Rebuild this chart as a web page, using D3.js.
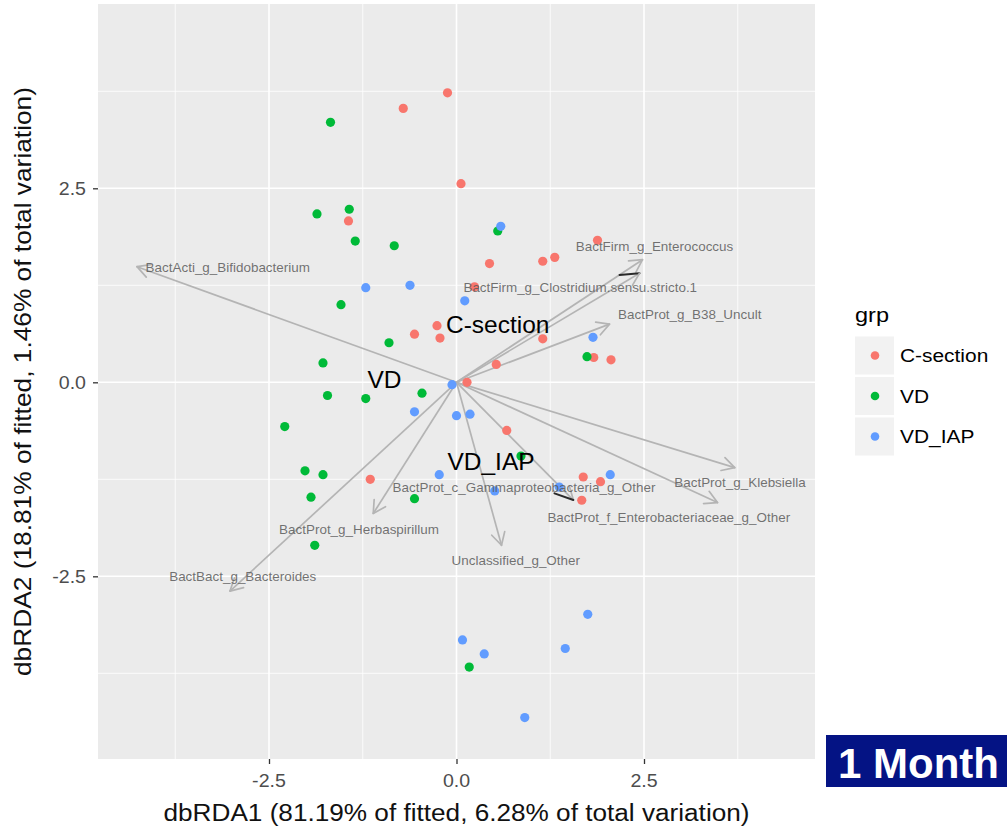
<!DOCTYPE html>
<html><head><meta charset="utf-8">
<script src="https://cdn.jsdelivr.net/npm/d3@7"></script>
<style>body{margin:0;background:#fff;} svg{display:block;font-family:"Liberation Sans",Arial,sans-serif;}</style>
</head><body>
<svg id="c" width="1007" height="826"></svg>
<script>
// ---------------- data ----------------
const groups = ["C-section", "VD", "VD_IAP"];
const groupColors = ["#F8766D", "#00BA38", "#619CFF"];

const csX = [-0.12,-0.71,0.06,-1.44,0.44,0.24,-0.26,-0.56,-0.22,0.53,0.14,1.88,1.15,1.31,1.15,1.83,2.06,-1.15,0.67,1.69,1.92,1.67];
const csY = [3.73,3.53,2.56,2.08,1.53,1.23,0.73,0.62,0.57,0.23,0.00,1.83,1.56,1.61,0.56,0.32,0.29,-1.25,-0.62,-1.22,-1.28,-1.52];

const vdX = [-1.68,-1.86,-1.43,-1.35,-0.83,-1.54,-0.90,-1.78,0.55,1.74,-0.46,-1.72,-1.21,-2.29,-2.02,-1.78,-1.94,-0.56,-1.89,0.17,0.86];
const vdY = [3.35,2.17,2.23,1.82,1.76,1.00,0.51,0.25,1.95,0.33,-0.14,-0.17,-0.21,-0.57,-1.14,-1.19,-1.48,-1.50,-2.10,-3.67,-0.95];

const iapX = [-1.21,-0.62,0.11,0.59,1.82,-0.06,-0.56,0.00,0.18,-0.23,0.51,2.05,1.37,1.75,1.45,0.08,0.37,0.91];
const iapY = [1.22,1.25,1.05,2.01,0.58,-0.03,-0.38,-0.43,-0.41,-1.19,-1.40,-1.19,-1.35,-2.99,-3.43,-3.32,-3.50,-4.32];

const arrowNames = ["BactActi_g_Bifidobacterium","BactFirm_g_Enterococcus","BactFirm_g_Clostridium.sensu.stricto.1",
  "BactProt_g_B38_Uncult","BactProt_g_Klebsiella","BactProt_f_Enterobacteriaceae_g_Other",
  "BactProt_c_Gammaproteobacteria_g_Other","Unclassified_g_Other","BactProt_g_Herbaspirillum","BactBact_g_Bacteroides"];
const arrowX = [-4.26,2.48,2.44,2.04,3.71,3.48,1.558,0.60,-1.11,-3.02];
const arrowY = [1.49,1.58,1.405,0.75,-1.10,-1.55,-1.517,-2.10,-1.69,-2.69];
const arrowLabelX = [-3.05,2.64,1.65,3.11,3.78,2.83,0.90,0.79,-1.30,-2.85];
const arrowLabelY = [1.47,1.74,1.22,0.87,-1.29,-1.74,-1.362,-2.30,-1.90,-2.50];

const centroidX = [0.55,-0.96,0.46];
const centroidY = [0.75,0.035,-1.02];

const xTicks = [-2.5, 0, 2.5];
const yTicks = [-2.5, 0, 2.5];
const xMinor = [-3.75,-1.25,1.25,3.75];
const yMinor = [-3.75,-1.25,1.25,3.75];
const xTitle = "dbRDA1 (81.19% of fitted, 6.28% of total variation)";
const yTitle = "dbRDA2 (18.81% of fitted, 1.46% of total variation)";
const legendTitle = "grp";
const badge = "1 Month";

// ---------------- drawing ----------------
const svg = d3.select("#c");
const P = {l:98, r:815, t:4, b:759};
const x = d3.scaleLinear().domain([-4.78, 4.78]).range([P.l, P.r]);
const y = d3.scaleLinear().domain([-4.854, 4.875]).range([P.b, P.t]);
const color = d3.scaleOrdinal().domain(groups).range(groupColors);
const SX = 1.12;
const fmt = v => d3.format(".1f")(v).replace("\u2212","-");

function stext(parent, px, py, str, o) {
  const g = parent.append("g").attr("transform", `translate(${px},${py}) scale(${o.sx||SX},1)`);
  return g.append("text").attr("x",0).attr("y",0).text(str)
    .attr("font-size", o.size).attr("fill", o.fill||"#000")
    .attr("text-anchor", o.anchor||"start").attr("dy", o.dy||null)
    .attr("fill-opacity", o.op==null?1:o.op).attr("font-weight", o.weight||"normal");
}

// panel
svg.append("rect").attr("x",P.l).attr("y",P.t).attr("width",P.r-P.l).attr("height",P.b-P.t).attr("fill","#EBEBEB");
const grid = svg.append("g");
grid.selectAll(".vm").data(xMinor).join("line").attr("x1",d=>x(d)).attr("x2",d=>x(d)).attr("y1",P.t).attr("y2",P.b).attr("stroke","#fff").attr("stroke-width",0.8);
grid.selectAll(".hm").data(yMinor).join("line").attr("y1",d=>y(d)).attr("y2",d=>y(d)).attr("x1",P.l).attr("x2",P.r).attr("stroke","#fff").attr("stroke-width",0.8);
grid.selectAll(".vM").data(xTicks).join("line").attr("x1",d=>x(d)).attr("x2",d=>x(d)).attr("y1",P.t).attr("y2",P.b).attr("stroke","#fff").attr("stroke-width",1.6);
grid.selectAll(".hM").data(yTicks).join("line").attr("y1",d=>y(d)).attr("y2",d=>y(d)).attr("x1",P.l).attr("x2",P.r).attr("stroke","#fff").attr("stroke-width",1.6);

// axes
const xa = svg.append("g").attr("transform",`translate(0,${P.b})`)
  .call(d3.axisBottom(x).tickValues(xTicks).tickSize(5).tickFormat(()=>""));
const ya = svg.append("g").attr("transform",`translate(${P.l},0)`)
  .call(d3.axisLeft(y).tickValues(yTicks).tickSize(5).tickFormat(()=>""));
[xa,ya].forEach(a=>{a.select(".domain").remove(); a.selectAll(".tick line").attr("stroke","#333").attr("stroke-width",1.3);});
xTicks.forEach(v=>stext(svg, x(v), 786.5, fmt(v), {size:17.5, fill:"#4D4D4D", anchor:"middle"}));
yTicks.forEach(v=>stext(svg, 86, y(v), fmt(v), {size:17.5, fill:"#4D4D4D", anchor:"end", dy:"0.36em"}));

svg.append("text").attr("x",(P.l+P.r)/2).attr("y",821).attr("text-anchor","middle").attr("font-size",23)
  .attr("fill","#111").attr("textLength",586).attr("lengthAdjust","spacingAndGlyphs").text(xTitle);
svg.append("text").attr("transform",`translate(31,${(P.t+P.b)/2}) rotate(-90)`).attr("text-anchor","middle").attr("font-size",24)
  .attr("fill","#111").attr("textLength",589).attr("lengthAdjust","spacingAndGlyphs").text(yTitle);

// arrows
const arrowData = arrowNames.map((n,i)=>({name:n, x:arrowX[i], y:arrowY[i], lx:arrowLabelX[i], ly:arrowLabelY[i]}));
const darkBranch = {"BactFirm_g_Clostridium.sensu.stricto.1": 1, "BactProt_c_Gammaproteobacteria_g_Other": -1};
const ag = svg.append("g");
const AC = "#B4B4B4";
arrowData.forEach(d=>{
  const x0=x(0), y0=y(0), x1=x(d.x), y1=y(d.y);
  ag.append("line").attr("x1",x0).attr("y1",y0).attr("x2",x1).attr("y2",y1).attr("stroke",AC).attr("stroke-width",1.7);
  const back = Math.atan2(y0-y1, x0-x1);
  [1,-1].forEach(s=>{
    const dark = darkBranch[d.name]===s;
    const len = dark ? 20 : 14;
    const a = back + s*(dark?0.45:0.5);
    ag.append("line").attr("x1",x1).attr("y1",y1).attr("x2",x1+len*Math.cos(a)).attr("y2",y1+len*Math.sin(a))
      .attr("stroke", dark ? "#2a2a2a" : AC).attr("stroke-width", dark?2:1.7).attr("stroke-linecap","round");
  });
});

// points
const pts = [];
csX.forEach((v,i)=>pts.push({g:"C-section",x:v,y:csY[i]}));
vdX.forEach((v,i)=>pts.push({g:"VD",x:v,y:vdY[i]}));
iapX.forEach((v,i)=>pts.push({g:"VD_IAP",x:v,y:iapY[i]}));
svg.append("g").selectAll("circle").data(pts).join("circle")
  .attr("cx",d=>x(d.x)).attr("cy",d=>y(d.y)).attr("r",4.6).attr("fill",d=>color(d.g));

// arrow labels
arrowData.forEach(d=>stext(svg, x(d.lx), y(d.ly), d.name, {size:12, fill:"#5a5a5a", anchor:"middle", dy:"0.35em", op:0.85}));

// centroid labels
groups.forEach((g,i)=>stext(svg, x(centroidX[i]), y(centroidY[i]), g, {size:24.5, fill:"#000", anchor:"middle", dy:"0.36em", sx:1}));

// legend
const lg = svg.append("g");
stext(lg, 855, 322, legendTitle, {size:21, fill:"#000"});
groups.forEach((g,i)=>{
  const top = 336.5 + i*40.5;
  lg.append("rect").attr("x",855).attr("y",top).attr("width",39).attr("height",38).attr("fill","#F2F2F2");
  lg.append("circle").attr("cx",875).attr("cy",top+19).attr("r",4.3).attr("fill",color(g));
  stext(lg, 900, top+19, g, {size:19, fill:"#000", dy:"0.36em", sx:1.1});
});

// badge
svg.append("rect").attr("x",826).attr("y",735).attr("width",181).attr("height",52).attr("fill","#041384");
stext(svg, 838, 777.5, badge, {size:42, fill:"#fff", weight:"bold", sx:1});
</script>
</body></html>
